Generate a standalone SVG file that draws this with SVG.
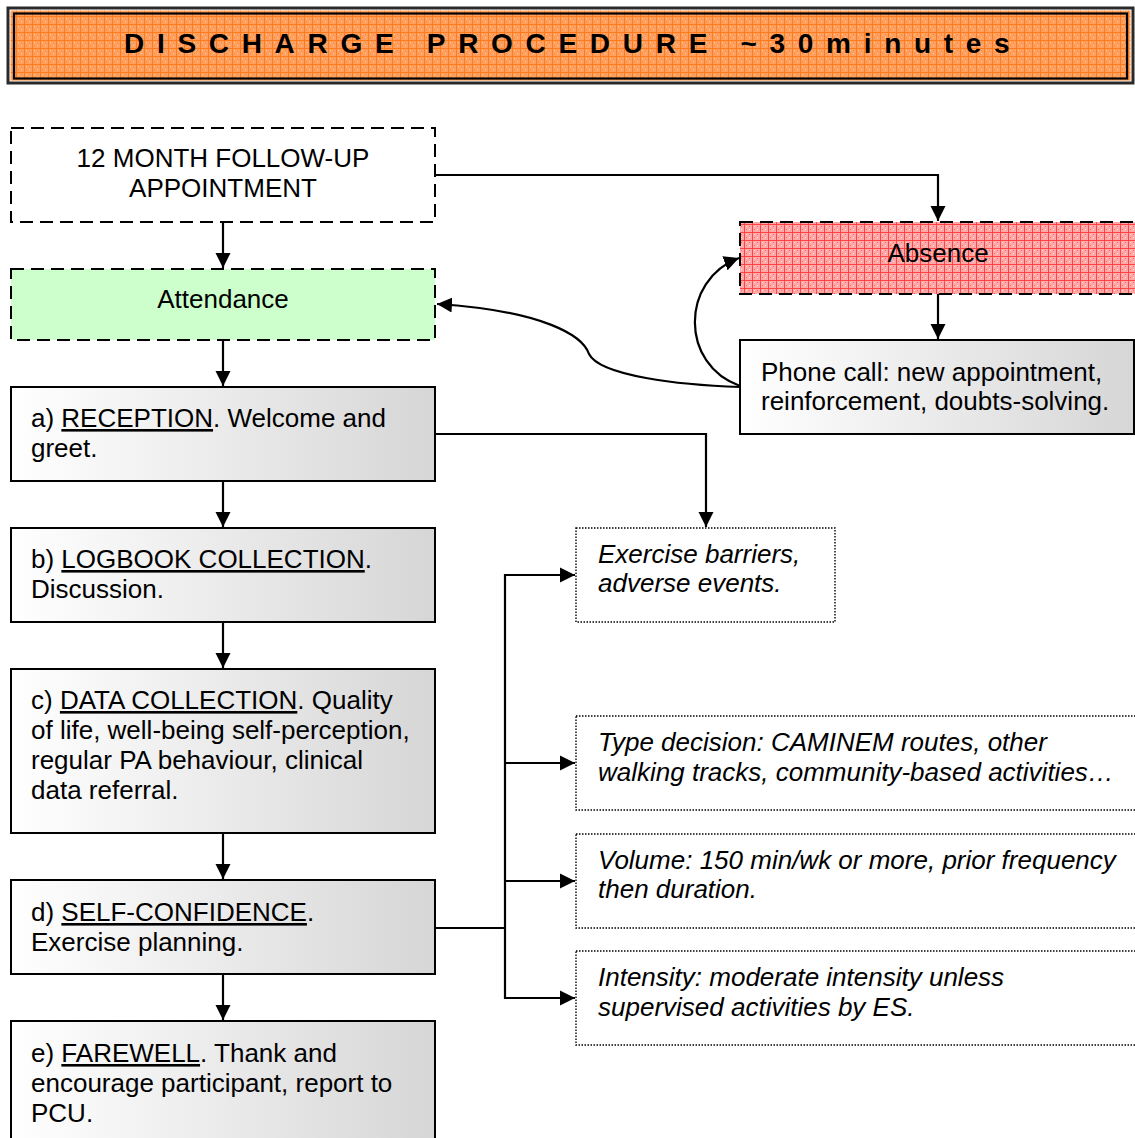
<svg xmlns="http://www.w3.org/2000/svg" width="1135" height="1138" viewBox="0 0 1135 1138">
  <defs>
    <!-- textured fills -->
    <pattern id="orangeGrid" width="8" height="8" patternUnits="userSpaceOnUse">
      <rect width="8" height="8" fill="#ffa060"/>
      <rect x="2" y="2" width="1" height="1" fill="#ffc79a"/>
      <rect x="5" y="5" width="1" height="1" fill="#ffc79a"/>
      <rect x="2" y="5" width="1" height="1" fill="#ff8a3a"/>
      <rect x="5" y="2" width="1" height="1" fill="#ff8a3a"/>
      <rect x="0" y="0" width="8" height="1" fill="#ff7a1a"/>
      <rect x="0" y="0" width="1" height="8" fill="#ff7a1a"/>
    </pattern>
    <pattern id="redGrid" width="8" height="8" patternUnits="userSpaceOnUse">
      <rect width="8" height="8" fill="#ffa8a8"/>
      <rect x="2" y="2" width="1" height="1" fill="#ffe0e0"/>
      <rect x="5" y="5" width="1" height="1" fill="#ffe0e0"/>
      <rect x="2" y="5" width="1" height="1" fill="#ff7070"/>
      <rect x="5" y="2" width="1" height="1" fill="#ff7070"/>
      <rect x="0" y="0" width="8" height="1" fill="#ff4545"/>
      <rect x="0" y="0" width="1" height="8" fill="#ff4545"/>
    </pattern>
    <linearGradient id="steel" x1="0" y1="0" x2="1" y2="0">
      <stop offset="0" stop-color="#ffffff"/>
      <stop offset="1" stop-color="#d6d6d6"/>
    </linearGradient>
    <marker id="arrow" markerUnits="userSpaceOnUse" markerWidth="16" markerHeight="16" refX="15" refY="8" orient="auto">
      <path d="M0,0.5 L15,8 L0,15.5 z" fill="#000"/>
    </marker>
  </defs>
  <style>
    text { font-family: "Liberation Sans", Arial, sans-serif; font-size: 26px; fill: #000; }
    .mid { text-anchor: middle; }
    .it { font-style: italic; }
    .u { text-decoration: underline; }
    .dash { fill: #fff; stroke: #000; stroke-width: 2; stroke-dasharray: 13 7; }
    .step { fill: url(#steel); stroke: #000; stroke-width: 2; }
    .note { fill: #fff; stroke: #000; stroke-width: 1.4; stroke-dasharray: 1.5 1.5; }
    .link { fill: none; stroke: #000; stroke-width: 2.2; }
    .title { font-size: 28px; font-weight: bold; letter-spacing: 12.7px; }
  </style>

  <!-- title banner -->
  <g id="title">
    <rect x="8" y="8" width="1125" height="75" fill="#fff" stroke="#2a2a2a" stroke-width="3"/>
    <rect x="10.5" y="10.5" width="1120" height="70" fill="url(#orangeGrid)"/>
    <rect x="14" y="13.5" width="1113" height="65" fill="none" stroke="#000" stroke-width="2.2"/>
    <text class="title" x="124" y="53">DISCHARGE PROCEDURE ~30minutes</text>
  </g>

  <!-- connectors -->
  <g id="connectors">
    <path class="link" d="M223,222 V268" marker-end="url(#arrow)"/>
    <path class="link" d="M435,175 H938 V221" marker-end="url(#arrow)"/>
    <path class="link" d="M938,294 V339" marker-end="url(#arrow)"/>
    <path class="link" d="M223,340 V386" marker-end="url(#arrow)"/>
    <path class="link" d="M223,481 V527" marker-end="url(#arrow)"/>
    <path class="link" d="M223,622 V668" marker-end="url(#arrow)"/>
    <path class="link" d="M223,833 V879" marker-end="url(#arrow)"/>
    <path class="link" d="M223,974 V1020" marker-end="url(#arrow)"/>
    <path class="link" d="M435,434 H706 V527" marker-end="url(#arrow)"/>
    <!-- branch from exercise planning to the four notes -->
    <path class="link" d="M435,928 H506" stroke-width="3"/>
    <path class="link" d="M505,574 V999" stroke-width="2.5"/>
    <path class="link" d="M505,575 H575" marker-end="url(#arrow)"/>
    <path class="link" d="M505,763 H575" marker-end="url(#arrow)"/>
    <path class="link" d="M505,881 H575" marker-end="url(#arrow)"/>
    <path class="link" d="M505,998 H575" marker-end="url(#arrow)"/>
    <!-- phone call loops -->
    <path class="link" d="M740,387 C680,385 600,376 589,354 C583,336 545,311 437,304" marker-end="url(#arrow)"/>
    <path class="link" d="M740,386 C680,365 680,280 739,258" marker-end="url(#arrow)"/>
  </g>

  <g id="followup">
    <rect class="dash" x="11" y="128" width="424" height="94"/>
    <text class="mid" x="223" y="167">12 MONTH FOLLOW-UP</text>
    <text class="mid" x="223" y="197">APPOINTMENT</text>
  </g>

  <g id="attendance">
    <rect class="dash" x="11" y="269" width="424" height="71" style="fill:#ccffcc"/>
    <text class="mid" x="223" y="308">Attendance</text>
  </g>

  <g id="absence">
    <rect class="dash" x="740" y="222" width="400" height="72" style="fill:url(#redGrid)"/>
    <text class="mid" x="938" y="262">Absence</text>
  </g>

  <g id="phonecall">
    <rect class="step" x="740" y="340" width="394" height="94"/>
    <text x="761" y="381">Phone call: new appointment,</text>
    <text x="761" y="410">reinforcement, doubts-solving.</text>
  </g>

  <g id="reception">
    <rect class="step" x="11" y="387" width="424" height="94"/>
    <text x="31" y="427">a) <tspan class="u">RECEPTION</tspan>. Welcome and</text>
    <text x="31" y="457">greet.</text>
  </g>

  <g id="logbook">
    <rect class="step" x="11" y="528" width="424" height="94"/>
    <text x="31" y="568">b) <tspan class="u">LOGBOOK COLLECTION</tspan>.</text>
    <text x="31" y="598">Discussion.</text>
  </g>

  <g id="datacollection">
    <rect class="step" x="11" y="669" width="424" height="164"/>
    <text x="31" y="709">c) <tspan class="u">DATA COLLECTION</tspan>. Quality</text>
    <text x="31" y="739">of life, well-being self-perception,</text>
    <text x="31" y="769">regular PA behaviour, clinical</text>
    <text x="31" y="799">data referral.</text>
  </g>

  <g id="selfconfidence">
    <rect class="step" x="11" y="880" width="424" height="94"/>
    <text x="31" y="921">d) <tspan class="u">SELF-CONFIDENCE</tspan>.</text>
    <text x="31" y="951">Exercise planning.</text>
  </g>

  <g id="farewell">
    <rect class="step" x="11" y="1021" width="424" height="140"/>
    <text x="31" y="1062">e) <tspan class="u">FAREWELL</tspan>. Thank and</text>
    <text x="31" y="1092">encourage participant, report to</text>
    <text x="31" y="1122">PCU.</text>
  </g>

  <g id="barriers">
    <rect class="note" x="576" y="528" width="259" height="94"/>
    <text class="it" x="598" y="563">Exercise barriers,</text>
    <text class="it" x="598" y="592">adverse events.</text>
  </g>

  <g id="type">
    <rect class="note" x="576" y="716" width="570" height="94"/>
    <text class="it" x="598" y="751">Type decision: CAMINEM routes, other</text>
    <text class="it" x="598" y="781">walking tracks, community-based activities…</text>
  </g>

  <g id="volume">
    <rect class="note" x="576" y="834" width="570" height="94"/>
    <text class="it" x="598" y="869">Volume: 150 min/wk or more, prior frequency</text>
    <text class="it" x="598" y="898">then duration.</text>
  </g>

  <g id="intensity">
    <rect class="note" x="576" y="951" width="570" height="94"/>
    <text class="it" x="598" y="986">Intensity: moderate intensity unless</text>
    <text class="it" x="598" y="1016">supervised activities by ES.</text>
  </g>
</svg>
